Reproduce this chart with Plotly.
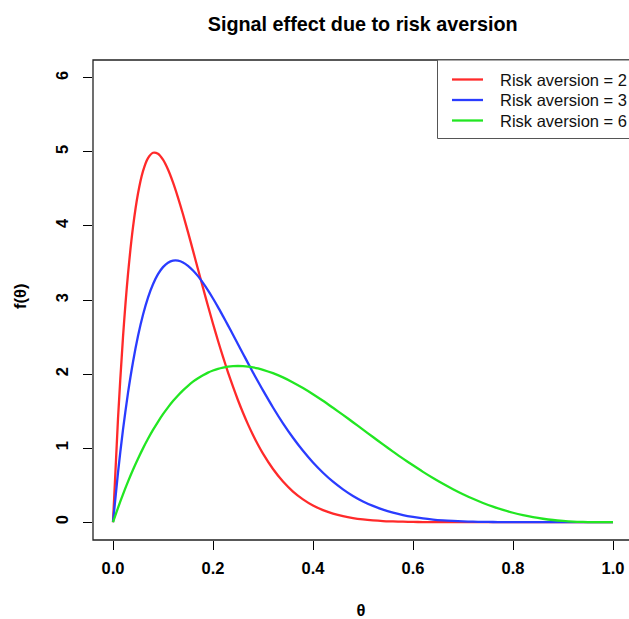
import plotly.graph_objects as go

# theta grid (0.01 steps up to 0.3, then 0.02 steps)
theta = [0.00, 0.01, 0.02, 0.03, 0.04, 0.05, 0.06, 0.07, 0.08, 0.09,
         0.10, 0.11, 0.12, 0.13, 0.14, 0.15, 0.16, 0.17, 0.18, 0.19,
         0.20, 0.21, 0.22, 0.23, 0.24, 0.25, 0.26, 0.27, 0.28, 0.29,
         0.30, 0.32, 0.34, 0.36, 0.38, 0.40, 0.42, 0.44, 0.46, 0.48,
         0.50, 0.52, 0.54, 0.56, 0.58, 0.60, 0.62, 0.64, 0.66, 0.68,
         0.70, 0.72, 0.74, 0.76, 0.78, 0.80, 0.82, 0.84, 0.86, 0.88,
         0.90, 0.92, 0.94, 0.96, 0.98, 1.00]

# f(theta) values
risk2 = [0.0, 1.397, 2.498, 3.348, 3.983, 4.437, 4.739, 4.915, 4.988, 4.975,
         4.895, 4.762, 4.588, 4.383, 4.157, 3.916, 3.667, 3.415, 3.165, 2.919,
         2.680, 2.450, 2.232, 2.024, 1.829, 1.647, 1.478, 1.321, 1.178, 1.046,
         0.925, 0.718, 0.549, 0.414, 0.309, 0.226, 0.164, 0.117, 0.082, 0.056,
         0.038, 0.025, 0.016, 0.011, 0.007, 0.004, 0.002, 0.001, 0.001, 0.0,
         0.0, 0.0, 0.0, 0.0, 0.0, 0.0, 0.0, 0.0, 0.0, 0.0,
         0.0, 0.0, 0.0, 0.0, 0.0, 0.0]
risk3 = [0.0, 0.671, 1.250, 1.745, 2.164, 2.514, 2.801, 3.033, 3.213, 3.349,
         3.444, 3.503, 3.531, 3.531, 3.507, 3.462, 3.399, 3.322, 3.231, 3.130,
         3.020, 2.904, 2.782, 2.658, 2.531, 2.403, 2.275, 2.148, 2.022, 1.899,
         1.779, 1.549, 1.335, 1.140, 0.964, 0.806, 0.668, 0.547, 0.444, 0.355,
         0.281, 0.220, 0.169, 0.129, 0.096, 0.071, 0.051, 0.036, 0.025, 0.017,
         0.011, 0.007, 0.004, 0.003, 0.001, 0.001, 0.0, 0.0, 0.0, 0.0,
         0.0, 0.0, 0.0, 0.0, 0.0, 0.0]
risk6 = [0.0, 0.194, 0.377, 0.548, 0.708, 0.857, 0.997, 1.126, 1.246, 1.356,
         1.458, 1.551, 1.636, 1.712, 1.781, 1.842, 1.897, 1.944, 1.985, 2.020,
         2.048, 2.071, 2.088, 2.100, 2.107, 2.109, 2.107, 2.101, 2.090, 2.076,
         2.058, 2.012, 1.955, 1.887, 1.811, 1.728, 1.639, 1.545, 1.449, 1.350,
         1.250, 1.150, 1.051, 0.954, 0.859, 0.768, 0.680, 0.597, 0.519, 0.446,
         0.378, 0.316, 0.260, 0.210, 0.166, 0.128, 0.096, 0.069, 0.047, 0.030,
         0.018, 0.009, 0.004, 0.001, 0.0, 0.0]

series_names = ["Risk aversion = 2", "Risk aversion = 3", "Risk aversion = 6"]
series_vals = [risk2, risk3, risk6]
colors = ["#ff2a2a", "#2a3cff", "#22e622"]

x_ticks = [0.0, 0.2, 0.4, 0.6, 0.8, 1.0]
x_ticktext = ["0.0", "0.2", "0.4", "0.6", "0.8", "1.0"]
y_ticks = [0, 1, 2, 3, 4, 5, 6]

FONT = "Liberation Sans, Arial, Helvetica, sans-serif"
W, H = 629, 619
ML, MR, MT, MB = 93, 0, 60, 79
PW = W - ML - MR
PH = H - MT - MB

def px(xpix):
    return (xpix - ML) / PW

def py(ypix):
    return (MT + PH - ypix) / PH

fig = go.Figure()
for name, vals, c in zip(series_names, series_vals, colors):
    fig.add_trace(go.Scatter(x=theta, y=vals, mode="lines", name=name,
                             line=dict(color=c, width=2.3, shape="spline", smoothing=0.8),
                             showlegend=False))

shapes = []
# plot box (right side extends past the image edge)
shapes.append(dict(type="rect", xref="paper", yref="paper", x0=0, x1=px(633), y0=0, y1=1,
                   line=dict(color="#222222", width=1.3)))
# legend box
shapes.append(dict(type="rect", xref="paper", yref="paper", x0=px(437.5), x1=px(640),
                   y0=py(138.5), y1=1, line=dict(color="#555555", width=1),
                   fillcolor="white", layer="above"))
annotations = []
row_y = [79.5, 100, 120.5]
for name, c, ry in zip(series_names, colors, row_y):
    shapes.append(dict(type="line", xref="paper", yref="paper", x0=px(452), x1=px(483),
                       y0=py(ry), y1=py(ry), line=dict(color=c, width=2.3), layer="above"))
    annotations.append(dict(text=name, xref="paper", yref="paper", x=px(497.5), y=py(ry),
                            xanchor="left", yanchor="middle", showarrow=False,
                            font=dict(family=FONT, size=16.5, color="#111111")))
# y axis title
annotations.append(dict(text="f(θ)", xref="paper", yref="paper", x=px(20), y=py(297),
                        xanchor="center", yanchor="middle", textangle=-90, showarrow=False,
                        font=dict(family=FONT, size=16.5, color="black", weight="bold")))

fig.update_layout(
    width=W, height=H,
    margin=dict(l=ML, r=MR, t=MT, b=MB),
    paper_bgcolor="white", plot_bgcolor="white",
    font=dict(family=FONT, size=16.5, color="black"),
    title=dict(text="Signal effect due to risk aversion", xref="paper", x=px(362.7),
               xanchor="center", yref="container", y=1 - 24 / H, yanchor="middle",
               font=dict(family=FONT, size=19.8, color="black", weight="bold")),
    xaxis=dict(range=[-0.04, -0.04 + PW / 500], tickvals=x_ticks, ticktext=x_ticktext,
               ticks="outside", ticklen=9, tickwidth=1.3, tickcolor="black",
               showgrid=False, zeroline=False, showline=False,
               ticklabelstandoff=4,
               tickfont=dict(family=FONT, size=16.5, color="black", weight="bold"),
               title=dict(text="θ", standoff=30,
                          font=dict(family=FONT, size=16.5, color="black", weight="bold"))),
    yaxis=dict(range=[-0.24, 6.24], tickvals=y_ticks, tickangle=-90,
               ticks="outside", ticklen=9, tickwidth=1.3, tickcolor="black",
               showgrid=False, zeroline=False, showline=False,
               ticklabelstandoff=8,
               tickfont=dict(family=FONT, size=16.5, color="black", weight="bold")),
    shapes=shapes,
    annotations=annotations,
)

fig.write_html("out.html")
